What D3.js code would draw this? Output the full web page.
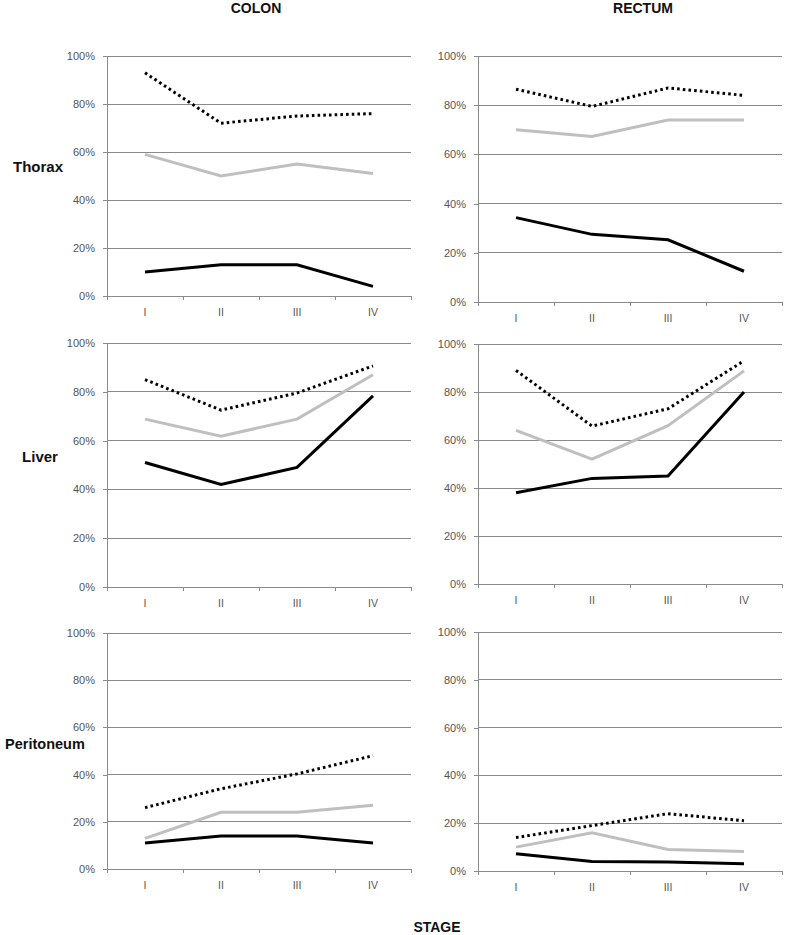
<!DOCTYPE html>
<html><head><meta charset="utf-8">
<script src="https://cdn.jsdelivr.net/npm/d3@7"></script>
<style>body{margin:0;background:#fff}svg{display:block}</style>
</head><body>
<svg id="c" width="787" height="935"></svg>
<script>
const stages = ["I","II","III","IV"];
const sites = ["Thorax","Liver","Peritoneum"];
const columns = ["COLON","RECTUM"];
const yTicks = [0,20,40,60,80,100];
const xTitle = "STAGE";
// values in %, [site][column]
const dotted = [
  [[93,72,75,76],[86.5,79.5,87,84]],
  [[85,72.5,79.5,90.6],[89,65.8,73,93]],
  [[26,34,40.3,48],[14,19,24,21]]
];
const gray = [
  [[59,50,55,51],[70,67.3,74,74]],
  [[68.8,61.8,68.8,87],[64,52,66,88.8]],
  [[13,24,24,27],[10,16,9,8.2]]
];
const black = [
  [[10,13,13,4],[34.3,27.5,25.3,12.5]],
  [[51,42,49,78.3],[38,44,45,80]],
  [[11,14,14,11],[7.2,4,3.8,3]]
];

const svg = d3.select("#c");
const font = "'Liberation Sans', Arial, sans-serif";
const xRanges = [[107,411],[478,782]];
const yRanges = [ [[296,56],[302,56]], [[587,343],[584,344]], [[869,633],[871,632]] ];
const rowLabelPos = [[38,167],[40,457],[45,744]];

columns.forEach((c,j)=>{
  svg.append("text").attr("x", j===0?256:643).attr("y",8).attr("dy","0.35em")
    .attr("text-anchor","middle").attr("font-family",font).attr("font-weight","bold")
    .attr("font-size",14).attr("fill","#111").text(c);
});
sites.forEach((s,i)=>{
  svg.append("text").attr("x",rowLabelPos[i][0]).attr("y",rowLabelPos[i][1]).attr("dy","0.35em")
    .attr("text-anchor","middle").attr("font-family",font).attr("font-weight","bold")
    .attr("font-size",i===2?14.5:15).attr("fill","#111").text(s);
});
svg.append("text").attr("x",437).attr("y",927).attr("dy","0.35em").attr("text-anchor","middle")
  .attr("font-family",font).attr("font-weight","bold").attr("font-size",14).attr("fill","#111").text(xTitle);

const gridColor = "#8a8a8a";
sites.forEach((s,i)=>{
  columns.forEach((c,j)=>{
    const g = svg.append("g");
    const y = d3.scaleLinear().domain([0,100]).range(yRanges[i][j]);
    const xb = d3.scaleBand().domain(stages).range(xRanges[j]);
    const xp = d => xb(d) + xb.bandwidth()/2;
    const [x0,x1] = xRanges[j];
    g.selectAll(".grid").data(yTicks.filter(t=>t>0)).join("line")
      .attr("x1",x0).attr("x2",x1).attr("y1",d=>y(d)).attr("y2",d=>y(d))
      .attr("stroke",gridColor).attr("stroke-width",1).attr("shape-rendering","crispEdges");
    const ya = d3.axisLeft(y).tickValues(yTicks).tickFormat(d=>d+"%").tickSize(4).tickPadding(8);
    const yg = g.append("g").attr("transform",`translate(${x0},0)`).call(ya);
    yg.select(".domain").attr("stroke",gridColor).attr("shape-rendering","crispEdges");
    yg.selectAll(".tick line").attr("stroke",gridColor).attr("shape-rendering","crispEdges");
    yg.selectAll("text").attr("font-family",font).attr("font-size",11).attr("fill","#555");
    const xa = d3.axisBottom(xb).tickSize(0).tickPadding(13);
    const xg = g.append("g").attr("transform",`translate(0,${y(0)})`).call(xa);
    xg.select(".domain").attr("stroke",gridColor).attr("d",`M${x0},4V0H${x1}V4`).attr("shape-rendering","crispEdges");
    xg.selectAll("text").attr("font-family",font).attr("font-size",10.5).attr("fill","#555");
    g.selectAll(".bt").data(stages.slice(1)).join("line")
      .attr("x1",d=>xb(d)).attr("x2",d=>xb(d)).attr("y1",y(0)).attr("y2",y(0)+4)
      .attr("stroke",gridColor).attr("shape-rendering","crispEdges");
    const line = d3.line().x((d,k)=>xp(stages[k])).y(d=>y(d));
    g.append("path").attr("d",line(gray[i][j])).attr("fill","none").attr("stroke","#bfbfbf").attr("stroke-width",3);
    g.append("path").attr("d",line(black[i][j])).attr("fill","none").attr("stroke","#000").attr("stroke-width",3);
    g.append("path").attr("d",line(dotted[i][j])).attr("fill","none").attr("stroke","#000")
      .attr("stroke-width",3).attr("stroke-dasharray","2.6 3.1");
  });
});
</script>
</body></html>
